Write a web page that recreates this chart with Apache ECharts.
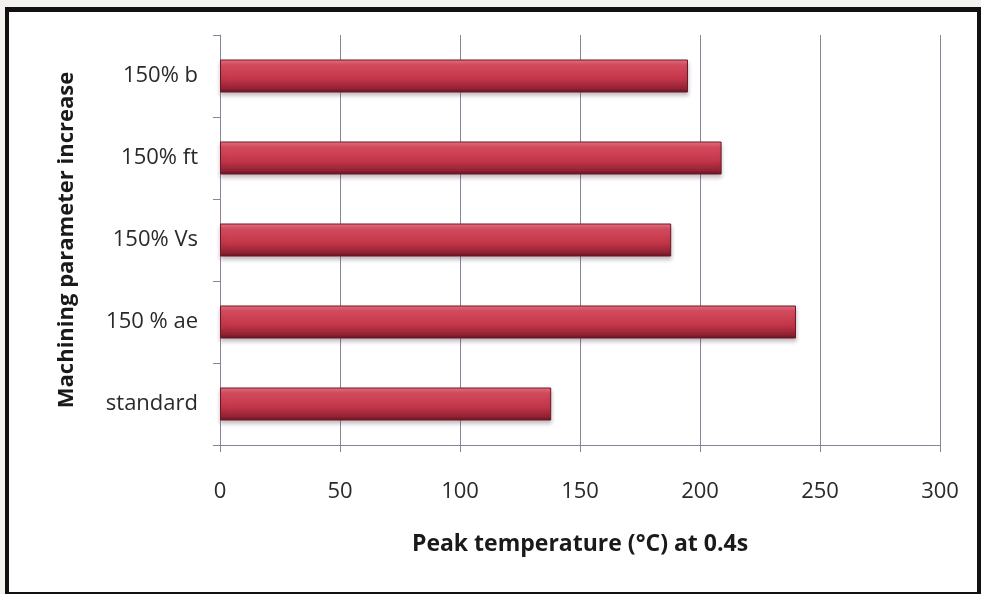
<!DOCTYPE html>
<html><head><meta charset="utf-8">
<script src="https://cdn.jsdelivr.net/npm/echarts@6/dist/echarts.min.js"></script>
<style>
html,body{margin:0;padding:0;background:#f4f2ee;}
#frame{position:absolute;left:5px;top:7px;width:968px;height:580px;border:4px solid #111;border-top-width:5px;background:#fff;}
#c{position:absolute;left:0;top:0;width:981px;height:594px;}
</style></head>
<body>
<div id="frame"></div>
<div id="c"></div>
<script>
var categories = ['standard', '150 % ae', '150% Vs', '150% ft', '150% b'];
var peakTemp = [138, 240, 188, 209, 195];
var xTicks = {min: 0, max: 300, interval: 50};

var chart = echarts.init(document.getElementById('c'), null, {renderer: 'canvas'});
var axisCol = '#8d8298';
var font = '"Open Sans", Lato, sans-serif';
chart.setOption({
  backgroundColor: 'transparent',
  animation: false,
  grid: {left: 220, right: 41, top: 35, bottom: 149},
  xAxis: {
    type: 'value', min: xTicks.min, max: xTicks.max, interval: xTicks.interval,
    name: 'Peak temperature (°C) at 0.4s', nameLocation: 'middle', nameGap: 88,
    nameTextStyle: {fontFamily: font, fontSize: 23, fontWeight: 'bold', color: '#1a1a1a'},
    axisLine: {show: true, lineStyle: {color: axisCol, width: 1}},
    axisTick: {show: true, length: 7, lineStyle: {color: axisCol}},
    axisLabel: {fontFamily: font, fontSize: 22, color: '#2a2a2a', margin: 36},
    splitLine: {show: true, lineStyle: {color: axisCol, width: 1}}
  },
  yAxis: {
    type: 'category', data: categories,
    name: 'Machining parameter increase', nameLocation: 'middle', nameGap: 142, nameRotate: 90,
    nameTextStyle: {fontFamily: font, fontSize: 22, fontWeight: 'bold', color: '#1a1a1a'},
    axisLine: {show: true, lineStyle: {color: axisCol, width: 1}},
    axisTick: {show: true, length: 7, lineStyle: {color: axisCol}},
    axisLabel: {fontFamily: font, fontSize: 22, color: '#2a2a2a', margin: 22},
    splitLine: {show: false}
  },
  series: [{
    type: 'bar', data: peakTemp, barWidth: 33,
    itemStyle: {
      color: new echarts.graphic.LinearGradient(0, 0, 0, 1, [
        {offset: 0, color: '#ec7482'},
        {offset: 0.18, color: '#d64a5e'},
        {offset: 0.6, color: '#c23548'},
        {offset: 0.88, color: '#922234'},
        {offset: 1, color: '#5e1520'}
      ]),
      borderColor: '#6a1a26', borderWidth: 1,
      shadowColor: 'rgba(90,60,80,0.35)', shadowBlur: 4, shadowOffsetY: 3
    }
  }]
});
</script>
</body></html>
